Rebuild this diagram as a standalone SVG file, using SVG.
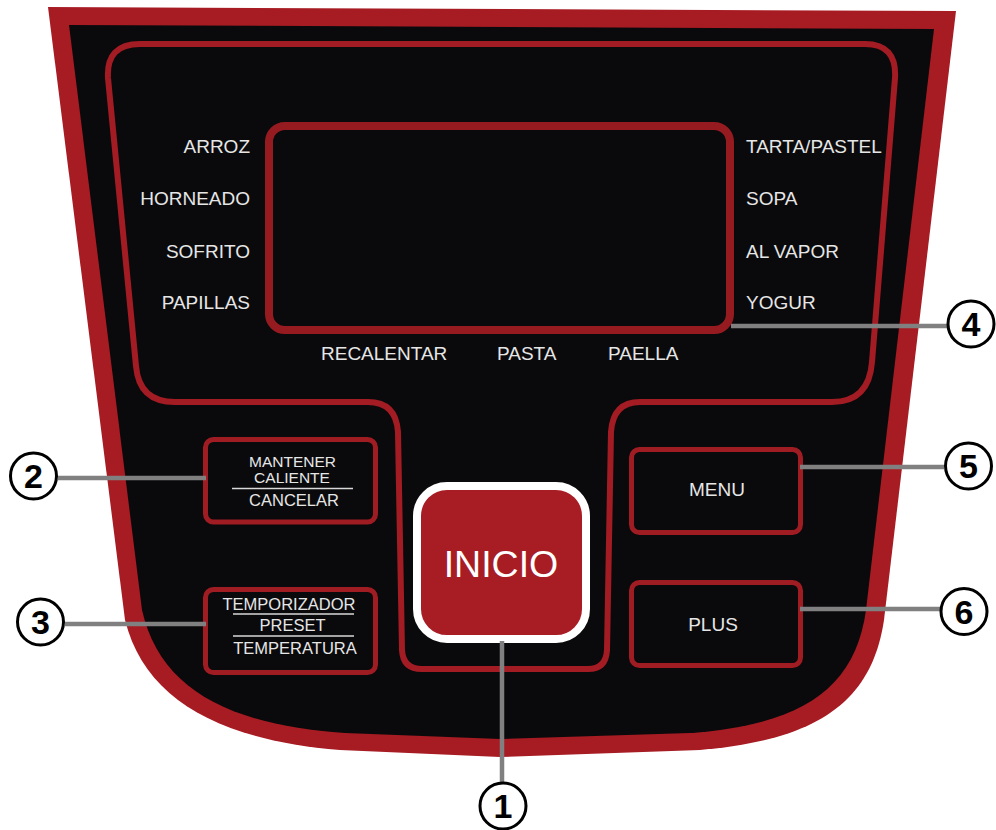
<svg xmlns="http://www.w3.org/2000/svg" width="996" height="830" viewBox="0 0 996 830">
<style>
.lbl{font-family:"Liberation Sans",Arial,sans-serif;font-size:19px;fill:#e6e6e6}
.btn{fill:#0a0a0c;stroke:#a01c23;stroke-width:5}
.btxt{font-family:"Liberation Sans",Arial,sans-serif;font-size:16.5px;fill:#e6e6e6;text-anchor:middle}
.sep{stroke:#d8d8d8;stroke-width:1.5}
.con{stroke:#808080;stroke-width:4.5;fill:none}
.num circle{fill:#ffffff;stroke:#000000;stroke-width:3}
.num text{font-family:"Liberation Sans",Arial,sans-serif;font-size:34px;font-weight:bold;fill:#000000;text-anchor:middle}
</style>
<rect width="996" height="830" fill="#ffffff"/>
<g id="body">
<path d="M48,7 L956,11 L884,620 C872,700 820,740 700,750 L500,757 L340,750 C220,740 145,700 125,620 Z" fill="#a71b23"/>
<path d="M69,25 L934,29 L866,610 C855,690 800,725 690,733 L500,739 L345,733 C230,725 160,690 142,610 Z" fill="#0a0a0c"/>
</g>
<g id="panel">
<path d="M140,44 L865,44 Q897,44 895,78 L872,362 Q869,402 832,402 L640,402 Q613,402 611,432 L607,650 Q606,669 588,669 L422,669 Q403,669 402,650 L398,432 Q396,402 368,402 L175,402 Q139,402 136,366 L108,78 Q106,44 140,44 Z" fill="none" stroke="#a31c24" stroke-width="6"/>
</g>
<g id="screen">
<rect x="269" y="126" width="461" height="204" rx="16" fill="#0a0a0c" stroke="#961b20" stroke-width="8"/>
</g>
<g id="labels">
<text class="lbl" x="250" y="153" text-anchor="end">ARROZ</text>
<text class="lbl" x="250" y="205" text-anchor="end">HORNEADO</text>
<text class="lbl" x="250" y="258" text-anchor="end">SOFRITO</text>
<text class="lbl" x="250" y="309" text-anchor="end">PAPILLAS</text>
<text class="lbl" x="746" y="153">TARTA/PASTEL</text>
<text class="lbl" x="746" y="205">SOPA</text>
<text class="lbl" x="746" y="258">AL VAPOR</text>
<text class="lbl" x="746" y="309">YOGUR</text>
<text class="lbl" x="321" y="360">RECALENTAR</text>
<text class="lbl" x="497" y="360">PASTA</text>
<text class="lbl" x="608" y="360">PAELLA</text>
</g>
<g id="btn-mantener">
<rect class="btn" x="205.5" y="439.5" width="170" height="82.5" rx="8"/>
<text class="btxt" x="292.5" y="467" style="font-size:15.5px">MANTENER</text>
<text class="btxt" x="292" y="483" style="font-size:15.5px">CALIENTE</text>
<line class="sep" x1="232" y1="488.5" x2="353" y2="488.5"/>
<text class="btxt" x="294" y="506">CANCELAR</text>
</g>
<g id="btn-temporizador">
<rect class="btn" x="205.5" y="589.5" width="170" height="83" rx="8"/>
<text class="btxt" x="289" y="610">TEMPORIZADOR</text>
<line class="sep" x1="233" y1="614" x2="354" y2="614"/>
<text class="btxt" x="292.5" y="631">PRESET</text>
<line class="sep" x1="233" y1="636" x2="354" y2="636"/>
<text class="btxt" x="295" y="654">TEMPERATURA</text>
</g>
<g id="btn-inicio">
<rect x="417" y="486" width="169" height="153" rx="30" fill="#a81c24" stroke="#ffffff" stroke-width="8"/>
<text x="501" y="577" font-family="'Liberation Sans',Arial,sans-serif" font-size="37.5" fill="#ffffff" text-anchor="middle">INICIO</text>
</g>
<g id="btn-menu">
<rect class="btn" x="631.5" y="449.5" width="169" height="83" rx="8"/>
<text class="btxt" x="717" y="496" style="font-size:19px">MENU</text>
</g>
<g id="btn-plus">
<rect class="btn" x="631.5" y="582.5" width="169" height="83" rx="8"/>
<text class="btxt" x="713" y="631" style="font-size:19px">PLUS</text>
</g>
<g id="connectors">
<line class="con" x1="502" y1="641" x2="502" y2="782"/>
<line class="con" x1="58" y1="478" x2="206" y2="478"/>
<line class="con" x1="65" y1="624" x2="206" y2="624"/>
<line class="con" x1="731" y1="326" x2="948" y2="326"/>
<line class="con" x1="800" y1="467" x2="944" y2="467"/>
<line class="con" x1="800" y1="609" x2="940" y2="609"/>
</g>
<g id="callout-1" class="num"><circle cx="503" cy="806" r="23"/><text x="503" y="818">1</text></g>
<g id="callout-2" class="num"><circle cx="33.5" cy="476" r="23"/><text x="33.5" y="488">2</text></g>
<g id="callout-3" class="num"><circle cx="40.5" cy="622" r="23"/><text x="40.5" y="634">3</text></g>
<g id="callout-4" class="num"><circle cx="971" cy="324" r="23"/><text x="971" y="336">4</text></g>
<g id="callout-5" class="num"><circle cx="968.5" cy="466" r="23"/><text x="968.5" y="478">5</text></g>
<g id="callout-6" class="num"><circle cx="964" cy="611.5" r="23"/><text x="964" y="623.5">6</text></g>
</svg>
